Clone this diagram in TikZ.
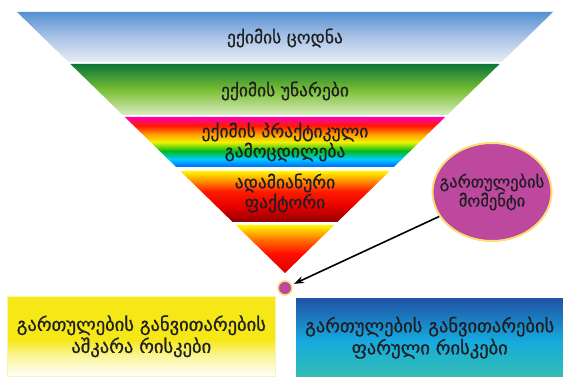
\documentclass[tikz,border=0pt]{standalone}
\usepackage{fontspec}
\setmainfont{DejaVu Sans}[FakeBold=0.8,BoldFont={DejaVu Sans}]
\usetikzlibrary{arrows.meta,calc,positioning,shapes.geometric}
\definecolor{mytext}{RGB}{30,30,35}
\definecolor{mymagenta}{RGB}{190,72,158}
\definecolor{myglow}{RGB}{250,222,120}
\definecolor{bluetop}{RGB}{85,145,210}
\definecolor{bluemid}{RGB}{170,195,230}
\definecolor{bluebot}{RGB}{232,237,246}
\definecolor{greentop}{RGB}{12,118,58}
\definecolor{greenmid}{RGB}{120,190,50}
\definecolor{greenbot}{RGB}{218,236,190}
\definecolor{boxtop}{RGB}{32,82,165}
\definecolor{boxmid}{RGB}{22,170,222}
\definecolor{boxbot}{RGB}{52,190,178}
\definecolor{boxyellow}{RGB}{245,232,22}
\pgfdeclareverticalshading{bandone}{100bp}{color(0bp)=(bluebot); color(25bp)=(bluebot);
  color(50bp)=(bluemid); color(75bp)=(bluetop); color(100bp)=(bluetop)}
\pgfdeclareverticalshading{bandtwo}{100bp}{color(0bp)=(greenbot); color(25bp)=(greenbot);
  color(50bp)=(greenmid); color(75bp)=(greentop); color(100bp)=(greentop)}
\pgfdeclareverticalshading{bandthree}{100bp}{color(0bp)=(blue!60!cyan); color(25bp)=(blue!60!cyan);
  color(33bp)=(cyan!80!blue); color(41bp)=(green!70!black!90!cyan); color(50bp)=(yellow!95!black); color(58bp)=(orange!80!yellow);
  color(66bp)=(red!80!orange); color(75bp)=(magenta!70!red); color(100bp)=(magenta!70!red)}
\pgfdeclareverticalshading{bandfour}{100bp}{color(0bp)=(red!55!black); color(25bp)=(red!55!black);
  color(40bp)=(red!90!black); color(55bp)=(red!80!orange); color(65bp)=(orange!90!yellow); color(75bp)=(yellow!95!orange); color(100bp)=(yellow!95!orange)}
\pgfdeclareverticalshading{bandfive}{100bp}{color(0bp)=(red!85!black); color(25bp)=(red!85!black);
  color(45bp)=(red!90!orange); color(60bp)=(orange!90!red); color(75bp)=(yellow!95!orange); color(100bp)=(yellow!95!orange)}
\pgfdeclareverticalshading{yellowbox}{100bp}{color(0bp)=(white); color(25bp)=(white);
  color(38bp)=(boxyellow!45!white); color(48bp)=(boxyellow); color(75bp)=(boxyellow); color(100bp)=(boxyellow)}
\pgfdeclareverticalshading{bluebox}{100bp}{color(0bp)=(boxbot); color(25bp)=(boxbot);
  color(48bp)=(boxmid); color(75bp)=(boxtop); color(100bp)=(boxtop)}
\tikzset{
    mylabel/.style={text=mytext,align=center,font=\fontsize{17.5}{20}\selectfont\bfseries,inner sep=0pt},
    myband/.style={draw=none},
    mybox/.style={minimum height=80pt,minimum width=268pt,inner sep=0pt,anchor=north west,text=mytext,align=center,font=\fontsize{18.5}{22}\selectfont\bfseries},
    mydot/.style={circle,fill=mymagenta,draw=myglow,line width=1.6pt,minimum size=14pt,inner sep=0pt}
}
\begin{document}
\begin{tikzpicture}[x=1pt,y=-1pt]
  \useasboundingbox[fill=white] (0,0) rectangle (563,377);
  \coordinate (L) at (17,12);
  \coordinate (R) at (553,12);
  \coordinate (T) at (285,273);

  % bands of the funnel
  \foreach \ya/\yb/\sh in {12/62/bandone,64/115/bandtwo,117/167/bandthree,171/222/bandfour,225/273/bandfive}{
    \shade[myband,shading=\sh] ($(L)!{(\ya-12)/261}!(T)$) -- ($(R)!{(\ya-12)/261}!(T)$)
      -- ($(R)!{(\yb-12)/261}!(T)$) -- ($(L)!{(\yb-12)/261}!(T)$) -- cycle;
  }

  \node[mylabel] (knowledge) at (285,38) {ექიმის ცოდნა};
  \node[mylabel] (skills) at (285,91) {ექიმის უნარები};
  \node[mylabel] (practice) at (285,142) {ექიმის პრაქტიკული\\გამოცდილება};
  \node[mylabel] (human) at (285,193) {ადამიანური\\ფაქტორი};

  \node[mydot] (moment) at (285,288) {};
  \node[ellipse,fill=mymagenta,draw=myglow,line width=2pt,minimum width=119pt,minimum height=98pt,
        inner xsep=-14pt,inner ysep=0pt,text=mytext,align=center,font=\fontsize{16.5}{19}\selectfont\bfseries] (complication) at (492,192) {გართულების\\მომენტი};
  \draw[-{Stealth[length=10pt,width=7pt]},line width=1.6pt,shorten >=2pt] (complication) -- (moment);

  \node[mybox,shading=yellowbox,draw=black!12!yellow!30!white,line width=0.6pt] (overt) at (7,296)
    {გართულების განვითარების\\აშკარა რისკები};
  \node[mybox,shading=bluebox,minimum width=267pt,minimum height=79pt] (hidden) at (296,298)
    {გართულების განვითარების\\ფარული რისკები};
\end{tikzpicture}
\end{document}
